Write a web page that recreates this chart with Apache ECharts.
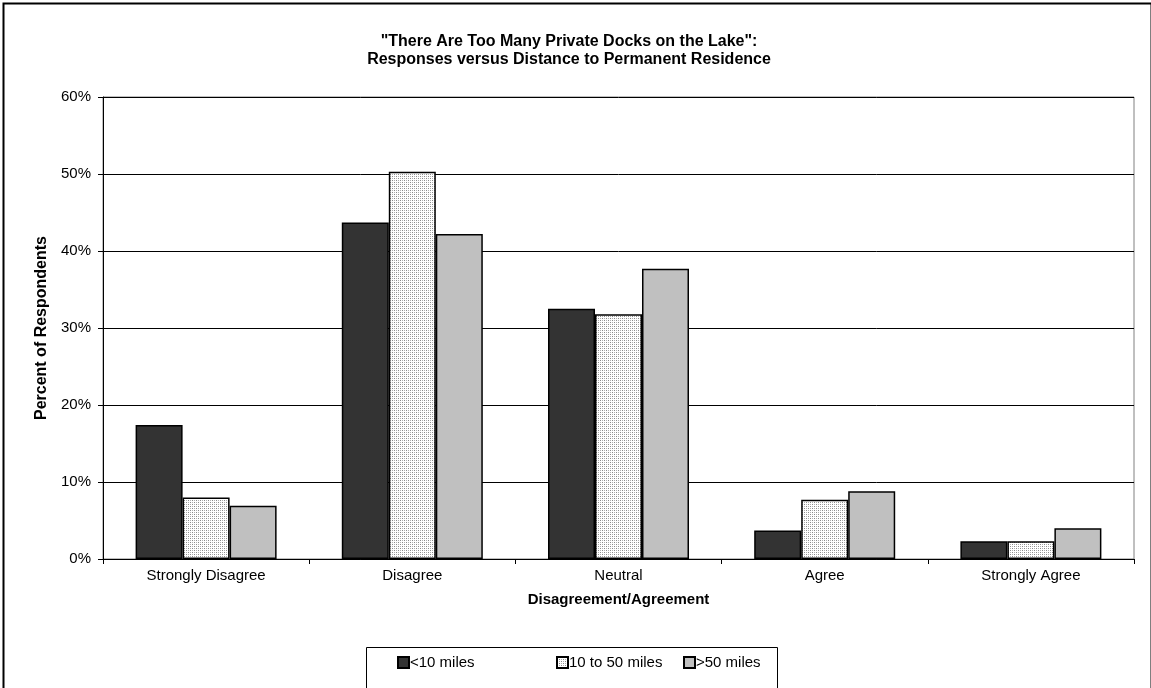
<!DOCTYPE html>
<html>
<head>
<meta charset="utf-8">
<script src="https://cdn.jsdelivr.net/npm/echarts@6/dist/echarts.min.js"></script>
<style>
html,body{margin:0;padding:0;background:#fff;}
#chart{width:1151px;height:688px;}
</style>
</head>
<body>
<div id="chart"></div>
<script>
const categories = ['Strongly Disagree', 'Disagree', 'Neutral', 'Agree', 'Strongly Agree'];
const seriesNames = ['<10 miles', '10 to 50 miles', '>50 miles'];
const under10 = [17.4, 43.7, 32.5, 3.7, 2.3];
const from10to50 = [8.0, 50.3, 31.8, 7.7, 2.3];
const over50 = [6.9, 42.2, 37.7, 8.8, 4.0];
const yMin = 0, yMax = 60, yStep = 10;

const FONT = '"Liberation Sans", Arial, sans-serif';

// stipple pattern for the middle series
const pc = document.createElement('canvas');
pc.width = 4; pc.height = 4;
const pctx = pc.getContext('2d');
pctx.fillStyle = '#ffffff';
pctx.fillRect(0, 0, 4, 4);
pctx.fillStyle = '#8a8a8a';
pctx.fillRect(0, 0, 1, 1);
pctx.fillRect(2, 2, 1, 1);
pctx.fillStyle = '#b0b0b0';
pctx.fillRect(2, 0, 1, 1);
pctx.fillRect(0, 2, 1, 1);
const dotted = { image: pc, repeat: 'repeat' };

const fills = ['#333333', dotted, '#c0c0c0'];
const datasets = [under10, from10to50, over50];
const legendLefts = [397, 556, 683];

const chart = echarts.init(document.getElementById('chart'), null, { renderer: 'canvas' });
chart.setOption({
  animation: false,
  backgroundColor: '#ffffff',
  textStyle: { fontFamily: FONT },
  title: {
    text: '"There Are Too Many Private Docks on the Lake":\nResponses versus Distance to Permanent Residence',
    left: 564, top: 28, textAlign: 'center',
    textStyle: { fontFamily: FONT, fontSize: 16, fontWeight: 'bold', color: '#000', lineHeight: 18 }
  },
  graphic: [{
    type: 'rect', left: 1, top: 1,
    shape: { x: 0, y: 0, width: 1148, height: 700 },
    style: { fill: 'none', stroke: '#000', lineWidth: 2 },
    silent: true, z: 100
  }, {
    type: 'rect', left: 366, top: 647,
    shape: { x: 0, y: 0, width: 411, height: 60 },
    style: { fill: '#fff', stroke: '#000', lineWidth: 1 },
    silent: true, z: 0
  }],
  legend: seriesNames.map((n, i) => ({
    data: [n],
    left: legendLefts[i], top: 655,
    padding: 0,
    itemWidth: 11, itemHeight: 11,
    icon: 'rect',
    textStyle: { fontFamily: FONT, fontSize: 15, color: '#000', padding: [0, 0, 0, -4] }
  })),
  grid: {
    left: 103, right: 17, top: 97, bottom: 129,
    show: true, borderColor: '#808080', borderWidth: 1, backgroundColor: '#fff'
  },
  xAxis: {
    type: 'category',
    data: categories,
    name: 'Disagreement/Agreement',
    nameLocation: 'middle', nameGap: 33,
    nameTextStyle: { fontFamily: FONT, fontSize: 15, fontWeight: 'bold', color: '#000' },
    axisLine: { lineStyle: { color: '#000', width: 1 } },
    axisTick: { show: true, alignWithLabel: false, length: 5, lineStyle: { color: '#000' } },
    axisLabel: { fontFamily: FONT, fontSize: 15, color: '#000', margin: 9 }
  },
  yAxis: {
    type: 'value',
    min: yMin, max: yMax, interval: yStep,
    name: 'Percent of Respondents',
    nameLocation: 'middle', nameGap: 50,
    nameTextStyle: { fontFamily: FONT, fontSize: 16, fontWeight: 'bold', color: '#000' },
    axisLine: { show: true, lineStyle: { color: '#000', width: 1 } },
    axisTick: { show: true, length: 5, lineStyle: { color: '#000' } },
    axisLabel: { fontFamily: FONT, fontSize: 15, color: '#000', margin: 12, formatter: v => v + '%' },
    splitLine: { show: true, lineStyle: { color: '#000', width: 1 } }
  },
  series: datasets.map((d, i) => ({
    name: seriesNames[i],
    type: 'bar',
    data: d,
    barWidth: 47,
    barGap: '0%',
    itemStyle: { color: fills[i], borderColor: '#000', borderWidth: 1.5 }
  }))
});
</script>
</body>
</html>
